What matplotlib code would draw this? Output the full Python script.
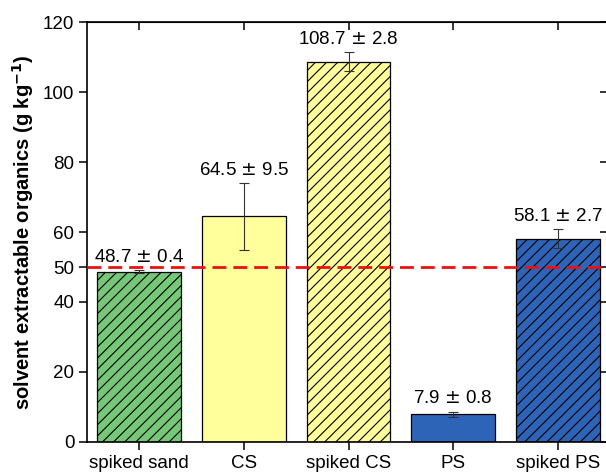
import numpy as np
import matplotlib
matplotlib.use("Agg")
import matplotlib.pyplot as plt

plt.rcParams['font.family'] = ['Liberation Sans', 'DejaVu Sans']
plt.rcParams['hatch.linewidth'] = 0.8
plt.rcParams['hatch.color'] = '#1a1a1a'

# extractable organics per sample
samples = ['spiked sand', 'CS', 'spiked CS', 'PS', 'spiked PS']
means = [48.7, 64.5, 108.7, 7.9, 58.1]
errors = [0.4, 9.5, 2.8, 0.8, 2.7]
colors = ['#76c878', '#ffff9c', '#ffff9c', '#2e64b8', '#2e64b8']
hatches = ['///', '', '///', '', '///']
spike_level = 50

fig = plt.figure(figsize=(6.06, 4.72), dpi=100)
ax = fig.add_axes([87 / 606, 30 / 472, 520 / 606, 420 / 472])

x = np.arange(len(samples))
for i in range(len(samples)):
    ax.bar(x[i], means[i], width=0.8, color=colors[i], edgecolor='black',
           linewidth=0.9, hatch=hatches[i], zorder=2)
ax.errorbar(x, means, yerr=errors, fmt='none', ecolor='#333333',
            elinewidth=0.8, capsize=3.5, capthick=0.8, zorder=3)

for i in range(len(samples)):
    ax.text(x[i], means[i] + errors[i] + 1.2,
            '{} $\\pm$ {}'.format(means[i], errors[i]),
            ha='center', va='bottom', fontsize=13.5)

ax.axhline(spike_level, color='#ee1111', linestyle=(0, (5, 2.5)),
           linewidth=2, zorder=4)

ax.set_xlim(-0.5, 4.47)
ax.set_ylim(0, 120)
ax.set_xticks(x)
ax.set_xticklabels(samples, fontsize=13.5)
ax.set_yticks([0, 20, 40, 50, 60, 80, 100, 120])
ax.tick_params(axis='y', labelsize=13.5, direction='out', length=6, width=1.1,
               right=True, pad=3)
ax.tick_params(axis='x', direction='out', length=6, width=1.1, pad=3)
for s in ax.spines.values():
    s.set_linewidth(1.2)

# inward ticks on the top and right sides
ax_top = ax.secondary_xaxis('top')
ax_top.set_xticks(x)
ax_top.tick_params(direction='in', length=6, width=1.1, labeltop=False)
for t in ax.yaxis.get_major_ticks():
    t.tick2line.set_marker(0)
    t.tick2line.set_markersize(5)

ax.set_ylabel('solvent extractable organics (g kg$^{\\mathbf{-1}}$)',
              fontsize=14.5, fontweight='bold', labelpad=5)

fig.savefig('out.png', dpi=100)
